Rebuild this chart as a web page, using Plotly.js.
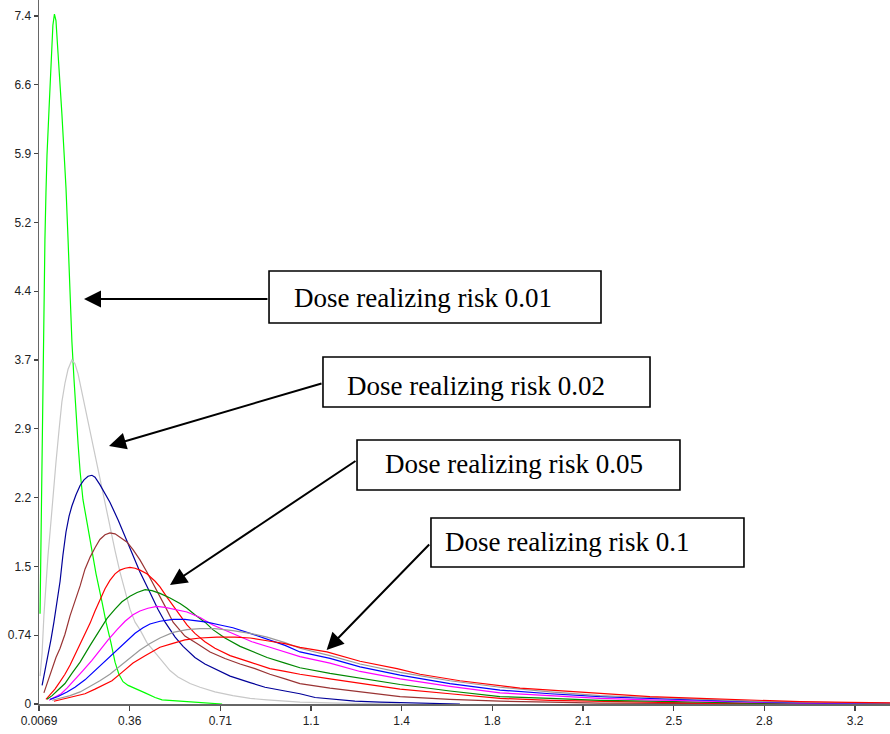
<!DOCTYPE html>
<html>
<head>
<meta charset="utf-8">
<script src="https://cdn.plot.ly/plotly-3.0.1.min.js"></script>
<style>html,body{margin:0;padding:0;background:#fff;}#chart{width:890px;height:734px;}</style>
</head>
<body>
<div id="chart"></div>
<script>
// Tick positions and labels
const xTickVals = [0.0069, 0.3600, 0.7131, 1.0662, 1.4193, 1.7724, 2.1255, 2.4786, 2.8317, 3.1848];
const xTickText = ["0.0069", "0.36", "0.71", "1.1", "1.4", "1.8", "2.1", "2.5", "2.8", "3.2"];
const yTickVals = [0, 0.74, 1.48, 2.22, 2.96, 3.70, 4.44, 5.18, 5.92, 6.66, 7.40];
const yTickText = ["0", "0.74", "1.5", "2.2", "2.9", "3.7", "4.4", "5.2", "5.9", "6.6", "7.4"];

// Curves
const greenX = [0.011,0.015,0.019,0.022,0.026,0.030,0.034,0.038,0.046,0.054,0.061,0.067,0.073,0.081,0.089,0.096,0.104,0.112,0.120,0.128,0.135,0.143,0.151,0.159,0.167,0.178,0.194,0.209,0.229,0.252,0.268,0.287,0.303,0.318,0.334,0.354,0.381,0.420,0.459,0.486,0.556,0.614,0.673,0.720];
const greenY = [0.97,1.9,2.6,3.4,4.2,5.0,5.5,5.9,6.4,6.95,7.3,7.42,7.35,7.0,6.7,6.35,5.95,5.55,5.0,4.4,3.9,3.5,3.1,2.8,2.5,2.2,1.95,1.7,1.4,1.1,0.88,0.66,0.45,0.32,0.24,0.2,0.17,0.12,0.07,0.045,0.03,0.02,0.01,0.0];

const lgrayX = [0.011,0.019,0.026,0.034,0.042,0.050,0.061,0.073,0.085,0.096,0.108,0.120,0.135,0.147,0.159,0.174,0.190,0.206,0.225,0.244,0.264,0.283,0.303,0.322,0.342,0.361,0.381,0.400,0.427,0.459,0.490,0.517,0.548,0.595,0.634,0.692,0.762,0.829,0.895,1.023,1.179,1.413];
const lgrayY = [0.3,0.55,0.95,1.3,1.6,1.85,2.25,2.6,2.95,3.25,3.45,3.6,3.7,3.66,3.55,3.35,3.15,2.95,2.7,2.45,2.15,1.9,1.65,1.42,1.2,1.02,0.88,0.8,0.66,0.55,0.45,0.36,0.29,0.22,0.18,0.13,0.09,0.06,0.045,0.02,0.01,0.0];

const navyX = [0.019,0.030,0.042,0.054,0.065,0.077,0.089,0.100,0.112,0.124,0.135,0.151,0.167,0.182,0.198,0.213,0.225,0.244,0.264,0.283,0.315,0.346,0.373,0.400,0.439,0.470,0.498,0.537,0.568,0.614,0.653,0.700,0.751,0.829,0.887,0.965,1.023,1.082,1.160,1.237,1.335,1.491,1.646];
const navyY = [0.2,0.35,0.52,0.7,0.88,1.08,1.32,1.6,1.85,2.02,2.13,2.25,2.35,2.41,2.45,2.46,2.44,2.36,2.27,2.17,1.98,1.78,1.6,1.42,1.2,1.02,0.88,0.72,0.62,0.5,0.43,0.37,0.3,0.23,0.18,0.14,0.11,0.07,0.05,0.03,0.02,0.01,0.0];

const brownX = [0.026,0.042,0.058,0.073,0.089,0.108,0.128,0.147,0.167,0.186,0.206,0.225,0.244,0.264,0.283,0.303,0.322,0.350,0.373,0.400,0.427,0.466,0.498,0.529,0.575,0.622,0.673,0.731,0.790,0.848,0.906,0.965,1.023,1.140,1.257,1.413,1.607,1.802,1.997,2.191,2.581,2.970];
const brownY = [0.12,0.25,0.38,0.5,0.6,0.75,0.95,1.1,1.27,1.45,1.58,1.68,1.77,1.82,1.84,1.83,1.79,1.74,1.66,1.55,1.42,1.22,1.05,0.88,0.73,0.65,0.56,0.49,0.43,0.38,0.32,0.27,0.22,0.17,0.13,0.08,0.05,0.03,0.02,0.01,0.005,0.0];

const red1X = [0.034,0.050,0.069,0.089,0.108,0.128,0.147,0.167,0.186,0.206,0.225,0.244,0.264,0.283,0.303,0.322,0.342,0.361,0.381,0.400,0.427,0.459,0.478,0.505,0.537,0.583,0.614,0.653,0.692,0.751,0.829,0.906,0.965,1.023,1.140,1.257,1.413,1.607,1.802,1.997,2.191,2.386,2.581,2.970,3.321];
const red1Y = [0.05,0.1,0.16,0.24,0.32,0.42,0.53,0.64,0.74,0.87,1.0,1.12,1.24,1.33,1.4,1.44,1.46,1.47,1.46,1.44,1.4,1.32,1.26,1.15,1.03,0.85,0.76,0.67,0.6,0.52,0.45,0.38,0.35,0.32,0.27,0.22,0.16,0.11,0.06,0.04,0.03,0.02,0.01,0.005,0.0];

const dgreenX = [0.038,0.058,0.081,0.108,0.135,0.167,0.206,0.244,0.272,0.303,0.330,0.361,0.389,0.420,0.447,0.478,0.517,0.556,0.583,0.614,0.653,0.684,0.731,0.790,0.848,0.895,0.965,1.023,1.140,1.257,1.413,1.607,1.802,1.997,2.191,2.386,2.581,2.776,3.321];
const dgreenY = [0.05,0.09,0.15,0.22,0.33,0.45,0.63,0.8,0.92,1.02,1.1,1.16,1.2,1.23,1.22,1.19,1.14,1.08,1.03,0.96,0.88,0.8,0.71,0.62,0.55,0.5,0.44,0.39,0.33,0.28,0.21,0.14,0.08,0.06,0.04,0.03,0.02,0.01,0.0];

const magentaX = [0.046,0.069,0.093,0.116,0.147,0.178,0.213,0.244,0.276,0.311,0.342,0.373,0.400,0.431,0.466,0.498,0.537,0.583,0.634,0.684,0.743,0.790,0.836,0.906,0.965,1.023,1.140,1.257,1.413,1.607,1.802,1.997,2.191,2.386,2.581,2.776,2.970,3.321];
const magentaY = [0.04,0.07,0.11,0.17,0.26,0.36,0.47,0.58,0.69,0.8,0.89,0.96,1.0,1.03,1.05,1.04,1.02,0.99,0.93,0.85,0.78,0.72,0.67,0.61,0.56,0.51,0.44,0.35,0.27,0.19,0.12,0.09,0.06,0.045,0.03,0.02,0.01,0.005];

const blueX = [0.050,0.081,0.116,0.147,0.186,0.225,0.264,0.303,0.342,0.381,0.412,0.439,0.478,0.529,0.575,0.614,0.661,0.712,0.762,0.829,0.895,0.965,1.023,1.140,1.257,1.413,1.607,1.802,1.997,2.191,2.386,2.581,2.776,2.970,3.165,3.321];
const blueY = [0.05,0.08,0.13,0.18,0.26,0.36,0.47,0.57,0.67,0.76,0.82,0.86,0.89,0.91,0.91,0.9,0.88,0.85,0.82,0.76,0.7,0.63,0.56,0.49,0.4,0.31,0.22,0.15,0.11,0.08,0.06,0.04,0.025,0.015,0.01,0.006];

const grayX = [0.058,0.089,0.128,0.167,0.206,0.244,0.283,0.322,0.361,0.400,0.439,0.478,0.529,0.583,0.634,0.692,0.762,0.829,0.895,0.965,1.023,1.140,1.257,1.413,1.607,1.802,1.997,2.191,2.386,2.581,2.776,2.970,3.165,3.321];
const grayY = [0.04,0.06,0.09,0.13,0.19,0.25,0.32,0.41,0.5,0.58,0.65,0.71,0.77,0.8,0.81,0.81,0.79,0.76,0.72,0.66,0.6,0.52,0.43,0.34,0.25,0.18,0.13,0.09,0.07,0.05,0.03,0.02,0.012,0.008];

const red2X = [0.065,0.108,0.147,0.186,0.225,0.264,0.291,0.330,0.373,0.420,0.478,0.525,0.575,0.634,0.700,0.770,0.829,0.895,0.965,1.023,1.128,1.257,1.401,1.491,1.646,1.880,2.036,2.191,2.386,2.581,2.776,2.970,3.165,3.321];
const red2Y = [0.03,0.06,0.08,0.11,0.16,0.21,0.25,0.34,0.44,0.52,0.61,0.65,0.69,0.71,0.72,0.72,0.71,0.68,0.65,0.61,0.56,0.46,0.38,0.32,0.25,0.17,0.14,0.11,0.08,0.06,0.04,0.025,0.018,0.012];

// Annotation labels and the point each arrow designates
const labels = ["Dose realizing risk 0.01", "Dose realizing risk 0.02", "Dose realizing risk 0.05", "Dose realizing risk 0.1"];
const arrowTipX = [0.182, 0.2795, 0.517, 1.127];
const arrowTipY = [4.356, 2.775, 1.28, 0.581];

const series = [
  {x: greenX, y: greenY, c: "#00ff00"},
  {x: lgrayX, y: lgrayY, c: "#c8c8c8"},
  {x: navyX, y: navyY, c: "#000099"},
  {x: brownX, y: brownY, c: "#993333"},
  {x: red1X, y: red1Y, c: "#ff0000"},
  {x: dgreenX, y: dgreenY, c: "#008800"},
  {x: magentaX, y: magentaY, c: "#ff00ff"},
  {x: blueX, y: blueY, c: "#0000ff"},
  {x: grayX, y: grayY, c: "#999999"},
  {x: red2X, y: red2Y, c: "#ff0000"}
];

const traces = series.map(s => ({
  type: "scatter", mode: "lines", x: s.x, y: s.y,
  line: {color: s.c, width: 1.2}, hoverinfo: "skip", showlegend: false
}));

// Box geometry (paper coordinates)
const boxes = [
  {x0: 0.2703, x1: 0.6604, y0: 0.5412, y1: 0.6151, tx: 0.2969, ty: 0.5767, ax: 185, ay: 0},
  {x0: 0.3337, x1: 0.7180, y0: 0.4219, y1: 0.4929, tx: 0.3596, ty: 0.4510, ax: 214, ay: -63},
  {x0: 0.3737, x1: 0.7532, y0: 0.3040, y1: 0.3750, tx: 0.4042, ty: 0.3416, ax: 187, ay: -125},
  {x0: 0.4606, x1: 0.8284, y0: 0.1946, y1: 0.2642, tx: 0.4747, ty: 0.2308, ax: 104, ay: -107}
];

const shapes = boxes.map(b => ({
  type: "rect", xref: "paper", yref: "paper", x0: b.x0, x1: b.x1, y0: b.y0, y1: b.y1,
  line: {color: "#000", width: 1.6}, fillcolor: "#fff", layer: "above"
}));

const annotations = [];
boxes.forEach((b, i) => {
  annotations.push({
    xref: "x", yref: "y", x: arrowTipX[i], y: arrowTipY[i], text: "",
    showarrow: true, arrowhead: 2, arrowsize: 1.7, arrowwidth: 2, arrowcolor: "#000",
    ax: b.ax, ay: b.ay, standoff: 0
  });
});
boxes.forEach((b, i) => {
  annotations.push({
    xref: "paper", yref: "paper", x: b.tx, y: b.ty, xanchor: "left", yanchor: "middle",
    text: labels[i], showarrow: false,
    font: {family: "Liberation Serif, Times New Roman, serif", size: 27, color: "#000"}
  });
});

const axisFont = {family: "Liberation Sans, Arial, sans-serif", size: 12, color: "#222"};

const layout = {
  width: 890, height: 734,
  margin: {l: 39, r: 0, t: 0, b: 30, pad: 0},
  paper_bgcolor: "#fff", plot_bgcolor: "#fff",
  showlegend: false,
  xaxis: {
    range: [0.0069, 3.3207], tickmode: "array", tickvals: xTickVals, ticktext: xTickText,
    showgrid: false, zeroline: false, showline: true, linecolor: "#666", linewidth: 1.5,
    ticks: "outside", ticklen: 5, tickwidth: 1.2, tickcolor: "#444", tickfont: axisFont
  },
  yaxis: {
    range: [0, 7.572], tickmode: "array", tickvals: yTickVals, ticktext: yTickText,
    showgrid: false, zeroline: false, showline: true, linecolor: "#666", linewidth: 1.5,
    ticks: "outside", ticklen: 4, tickwidth: 1.2, tickcolor: "#444", tickfont: axisFont
  },
  shapes: shapes,
  annotations: annotations
};

Plotly.newPlot("chart", traces, layout, {staticPlot: true, displayModeBar: false});
</script>
</body>
</html>
